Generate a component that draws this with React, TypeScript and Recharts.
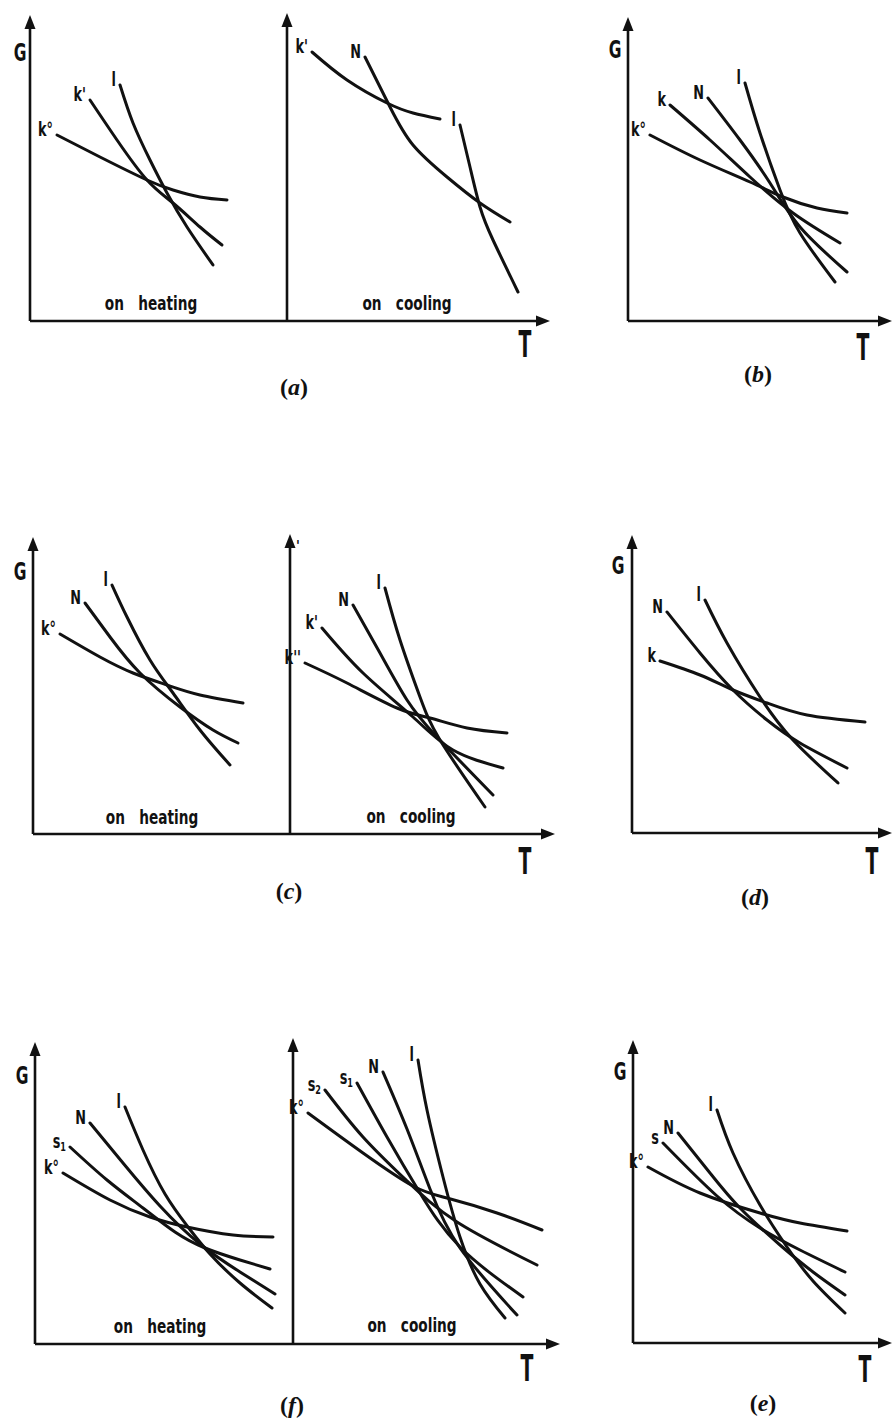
import { LineChart, Line, XAxis, YAxis, ReferenceLine, ReferenceDot } from "recharts";

type Pt = [number, number]; // [T, G], axis origin = 0

// (a) on heating / on cooling
const aHeatK0: Pt[] = [[27, 186], [70, 164], [117, 141], [143, 131], [170, 124], [197, 121]];
const aHeatK1: Pt[] = [[60, 221], [87, 181], [117, 141], [143, 118], [170, 94], [192, 76]];
const aHeatL: Pt[] = [[90, 236], [103, 198], [120, 161], [137, 128], [157, 94], [183, 56]];
const aCoolK1: Pt[] = [[282, 269], [317, 241], [357, 218], [383, 208], [410, 202]];
const aCoolN: Pt[] = [[335, 264], [360, 214], [383, 176], [417, 144], [450, 118], [480, 99]];
const aCoolL: Pt[] = [[430, 196], [440, 154], [450, 114], [463, 81], [488, 29]];

// (b)
const bK0: Pt[] = [[22, 186], [72, 161], [122, 139], [155, 124], [189, 113], [219, 108]];
const bK: Pt[] = [[42, 216], [82, 181], [122, 144], [165, 108], [212, 78]];
const bN: Pt[] = [[80, 223], [112, 181], [142, 138], [172, 94], [219, 49]];
const bL: Pt[] = [[117, 238], [132, 188], [152, 131], [172, 88], [207, 39]];

// (c)
const cHeatK0: Pt[] = [[27, 200], [67, 177], [100, 161], [134, 149], [167, 139], [210, 131]];
const cHeatN: Pt[] = [[52, 231], [77, 197], [107, 161], [147, 127], [180, 104], [205, 91]];
const cHeatL: Pt[] = [[79, 249], [94, 217], [117, 174], [140, 141], [167, 104], [197, 69]];
const cCoolK2: Pt[] = [[272, 171], [314, 151], [364, 126], [397, 116], [434, 106], [474, 101]];
const cCoolK1: Pt[] = [[289, 206], [330, 161], [380, 117], [420, 84], [470, 66]];
const cCoolN: Pt[] = [[320, 229], [347, 181], [374, 134], [404, 97], [460, 39]];
const cCoolL: Pt[] = [[352, 246], [367, 194], [387, 137], [407, 94], [452, 27]];

// (d)
const dK: Pt[] = [[28, 172], [68, 158], [101, 143], [135, 130], [175, 118], [233, 111]];
const dN: Pt[] = [[35, 221], [68, 180], [101, 143], [135, 113], [168, 90], [215, 65]];
const dL: Pt[] = [[73, 233], [95, 190], [128, 136], [161, 93], [206, 50]];

// (f)
const fHeatK0: Pt[] = [[28, 171], [75, 144], [115, 127], [152, 117], [198, 109], [238, 107]];
const fHeatS1: Pt[] = [[35, 197], [72, 164], [108, 136], [140, 112], [170, 96], [205, 84], [235, 75]];
const fHeatN: Pt[] = [[55, 221], [88, 181], [125, 138], [165, 100], [205, 72], [240, 50]];
const fHeatL: Pt[] = [[90, 237], [108, 194], [130, 150], [153, 117], [175, 90], [205, 61], [237, 36]];
const fCoolK0: Pt[] = [[273, 231], [328, 191], [378, 158], [412, 146], [462, 131], [507, 114]];
const fCoolS2: Pt[] = [[290, 254], [328, 207], [372, 163], [422, 122], [502, 79]];
const fCoolS1: Pt[] = [[322, 261], [352, 207], [385, 151], [425, 97], [488, 47]];
const fCoolN: Pt[] = [[348, 272], [372, 215], [395, 155], [425, 96], [482, 29]];
const fCoolL: Pt[] = [[383, 284], [392, 234], [408, 167], [425, 107], [445, 60], [470, 26]];

// (e)
const eK0: Pt[] = [[15, 176], [67, 150], [127, 130], [167, 120], [214, 112]];
const eS: Pt[] = [[30, 200], [84, 147], [127, 115], [167, 93], [212, 71]];
const eN: Pt[] = [[45, 210], [77, 170], [107, 135], [147, 98], [180, 71], [212, 48]];
const eL: Pt[] = [[84, 233], [100, 190], [127, 138], [154, 96], [180, 62], [212, 30]];

const FONT = "'Liberation Sans Narrow', 'DejaVu Sans Condensed', 'DejaVu Sans', sans-serif";
const INK = "#111";

type Curve = { name: string; pts: Pt[] };
type Note = { text: string; t: number; g: number; kind: "axis" | "mode" | "tag" | "tick" };
type Spec = {
  box: { left: number; top: number; width: number; height: number };
  origin: { x: number; y: number };
  yAxes: { t: number; top: number }[];
  xEnd: number;
  curves: Curve[];
  notes: Note[];
};

const panels: Spec[] = [
  {
    box: { left: 0, top: 0, width: 560, height: 400 },
    origin: { x: 30, y: 321 },
    yAxes: [{ t: 0, top: 306 }, { t: 257, top: 308 }],
    xEnd: 520,
    curves: [
      { name: "k°", pts: aHeatK0 }, { name: "k'", pts: aHeatK1 }, { name: "l", pts: aHeatL },
      { name: "k'", pts: aCoolK1 }, { name: "N", pts: aCoolN }, { name: "l", pts: aCoolL },
    ],
    notes: [
      { text: "G", t: -10, g: 268, kind: "axis" },
      { text: "T", t: 495, g: -22, kind: "axis" },
      { text: "on heating", t: 121, g: 16, kind: "mode" },
      { text: "on cooling", t: 377, g: 16, kind: "mode" },
      { text: "a", t: 264, g: -66, kind: "tag" },
    ],
  },
  {
    box: { left: 595, top: 0, width: 298, height: 400 },
    origin: { x: 628, y: 321 },
    yAxes: [{ t: 0, top: 304 }],
    xEnd: 264,
    curves: [
      { name: "k°", pts: bK0 }, { name: "k", pts: bK }, { name: "N", pts: bN }, { name: "l", pts: bL },
    ],
    notes: [
      { text: "G", t: -13, g: 271, kind: "axis" },
      { text: "T", t: 235, g: -25, kind: "axis" },
      { text: "b", t: 130, g: -53, kind: "tag" },
    ],
  },
  {
    box: { left: 0, top: 520, width: 560, height: 400 },
    origin: { x: 33, y: 834 },
    yAxes: [{ t: 0, top: 297 }, { t: 257, top: 300 }],
    xEnd: 522,
    curves: [
      { name: "k°", pts: cHeatK0 }, { name: "N", pts: cHeatN }, { name: "l", pts: cHeatL },
      { name: "k''", pts: cCoolK2 }, { name: "k'", pts: cCoolK1 }, { name: "N", pts: cCoolN }, { name: "l", pts: cCoolL },
    ],
    notes: [
      { text: "G", t: -13, g: 262, kind: "axis" },
      { text: "T", t: 492, g: -26, kind: "axis" },
      { text: "'", t: 265, g: 284, kind: "tick" },
      { text: "on heating", t: 119, g: 15, kind: "mode" },
      { text: "on cooling", t: 378, g: 16, kind: "mode" },
      { text: "c", t: 256, g: -57, kind: "tag" },
    ],
  },
  {
    box: { left: 595, top: 520, width: 298, height: 400 },
    origin: { x: 632, y: 833 },
    yAxes: [{ t: 0, top: 298 }],
    xEnd: 260,
    curves: [{ name: "k", pts: dK }, { name: "N", pts: dN }, { name: "l", pts: dL }],
    notes: [
      { text: "G", t: -14, g: 267, kind: "axis" },
      { text: "T", t: 240, g: -27, kind: "axis" },
      { text: "d", t: 123, g: -64, kind: "tag" },
    ],
  },
  {
    box: { left: 0, top: 1030, width: 565, height: 395 },
    origin: { x: 35, y: 1344 },
    yAxes: [{ t: 0, top: 302 }, { t: 258, top: 306 }],
    xEnd: 525,
    curves: [
      { name: "k°", pts: fHeatK0 }, { name: "s_1", pts: fHeatS1 }, { name: "N", pts: fHeatN }, { name: "l", pts: fHeatL },
      { name: "k°", pts: fCoolK0 }, { name: "s_2", pts: fCoolS2 }, { name: "s_1", pts: fCoolS1 }, { name: "N", pts: fCoolN }, { name: "l", pts: fCoolL },
    ],
    notes: [
      { text: "G", t: -13, g: 268, kind: "axis" },
      { text: "T", t: 492, g: -23, kind: "axis" },
      { text: "on heating", t: 125, g: 16, kind: "mode" },
      { text: "on cooling", t: 377, g: 17, kind: "mode" },
      { text: "f", t: 257, g: -61, kind: "tag" },
    ],
  },
  {
    box: { left: 595, top: 1030, width: 298, height: 395 },
    origin: { x: 633, y: 1343 },
    yAxes: [{ t: 0, top: 303 }],
    xEnd: 259,
    curves: [{ name: "k°", pts: eK0 }, { name: "s", pts: eS }, { name: "N", pts: eN }, { name: "l", pts: eL }],
    notes: [
      { text: "G", t: -13, g: 271, kind: "axis" },
      { text: "T", t: 232, g: -25, kind: "axis" },
      { text: "e", t: 130, g: -60, kind: "tag" },
    ],
  },
];

const toRows = (pts: Pt[]) => pts.map(([t, g]) => ({ t, g }));

function noteShape(n: Note) {
  return (p: any) => {
    const { cx, cy } = p;
    if (n.kind === "tag") {
      return (
        <text x={cx} y={cy + 8} textAnchor="middle" fontFamily="'Liberation Serif', serif" fontWeight="bold" fontSize={24} fill={INK}>
          (<tspan fontStyle="italic">{n.text}</tspan>)
        </text>
      );
    }
    if (n.kind === "mode") {
      return (
        <text
          transform={`translate(${cx},${cy}) scale(0.8,1.05)`}
          x={0}
          y={5}
          textAnchor="middle"
          fontFamily={FONT}
          fontWeight="bold"
          fontSize={19}
          wordSpacing={12}
          fill={INK}
        >
          {n.text}
        </text>
      );
    }
    if (n.kind === "tick") {
      return (
        <text x={cx} y={cy} textAnchor="middle" fontFamily={FONT} fontWeight="bold" fontSize={14} fill={INK}>
          {n.text}
        </text>
      );
    }
    // big condensed axis letters
    const tall = n.text === "T";
    return (
      <text
        transform={`translate(${cx},${cy}) scale(${tall ? 0.6 : 0.75},1.05)`}
        x={0}
        y={tall ? 13 : 8}
        textAnchor="middle"
        fontFamily={FONT}
        fontWeight="bold"
        fontSize={tall ? 35 : 23}
        fill={INK}
      >
        {n.text}
      </text>
    );
  };
}

function tagShape(name: string) {
  const [base, sub] = name.split("_");
  return (p: any) => (
    <text
      transform={`translate(${p.cx - 4},${p.cy + 1}) scale(0.75,1.05)`}
      x={0}
      y={0}
      textAnchor="end"
      fontFamily={FONT}
      fontWeight="bold"
      fontSize={19}
      fill={INK}
    >
      {base}
      {sub && <tspan fontSize={12} dy={3}>{sub}</tspan>}
    </text>
  );
}

const upArrow = (p: any) => (
  <path d={`M${p.cx},${p.cy} L${p.cx - 5.5},${p.cy + 14} L${p.cx + 5.5},${p.cy + 14} Z`} fill={INK} />
);
const rightArrow = (p: any) => (
  <path d={`M${p.cx},${p.cy} L${p.cx - 14},${p.cy - 5.5} L${p.cx - 14},${p.cy + 5.5} Z`} fill={INK} />
);

function Panel({ spec }: { spec: Spec }) {
  const { box, origin, yAxes, xEnd, curves, notes } = spec;
  const xDomain = [box.left - origin.x, box.left + box.width - origin.x];
  const yDomain = [origin.y - (box.top + box.height), origin.y - box.top];
  return (
    <div style={{ position: "absolute", left: box.left, top: box.top }}>
      <LineChart width={box.width} height={box.height} margin={{ top: 0, right: 0, bottom: 0, left: 0 }} style={{ overflow: "visible" }}>
        <XAxis type="number" dataKey="t" domain={xDomain} hide allowDataOverflow />
        <YAxis type="number" domain={yDomain} hide allowDataOverflow />
        <ReferenceLine segment={[{ x: 0, y: 0 }, { x: xEnd - 6, y: 0 }]} stroke={INK} strokeWidth={2.6} />
        <ReferenceDot x={xEnd} y={0} r={0} shape={rightArrow} />
        {yAxes.map((a, i) => (
          <ReferenceLine key={`ya-${i}`} segment={[{ x: a.t, y: 0 }, { x: a.t, y: a.top - 6 }]} stroke={INK} strokeWidth={2.6} />
        ))}
        {yAxes.map((a, i) => (
          <ReferenceDot key={`yh-${i}`} x={a.t} y={a.top} r={0} shape={upArrow} />
        ))}
        {curves.map((c, i) => (
          <Line
            key={`c-${i}`}
            data={toRows(c.pts)}
            dataKey="g"
            type="natural"
            stroke={INK}
            strokeWidth={3}
            strokeLinecap="round"
            dot={false}
            activeDot={false}
            isAnimationActive={false}
          />
        ))}
        {curves.map((c, i) => (
          <ReferenceDot key={`t-${i}`} x={c.pts[0][0]} y={c.pts[0][1]} r={0} shape={tagShape(c.name)} />
        ))}
        {notes.map((n, i) => (
          <ReferenceDot key={`n-${i}`} x={n.t} y={n.g} r={0} shape={noteShape(n)} />
        ))}
      </LineChart>
    </div>
  );
}

export default function App() {
  return (
    <div style={{ position: "absolute", left: 0, top: 0, width: 893, height: 1425, background: "#fff" }}>
      {panels.map((p, i) => (
        <Panel key={i} spec={p} />
      ))}
    </div>
  );
}
